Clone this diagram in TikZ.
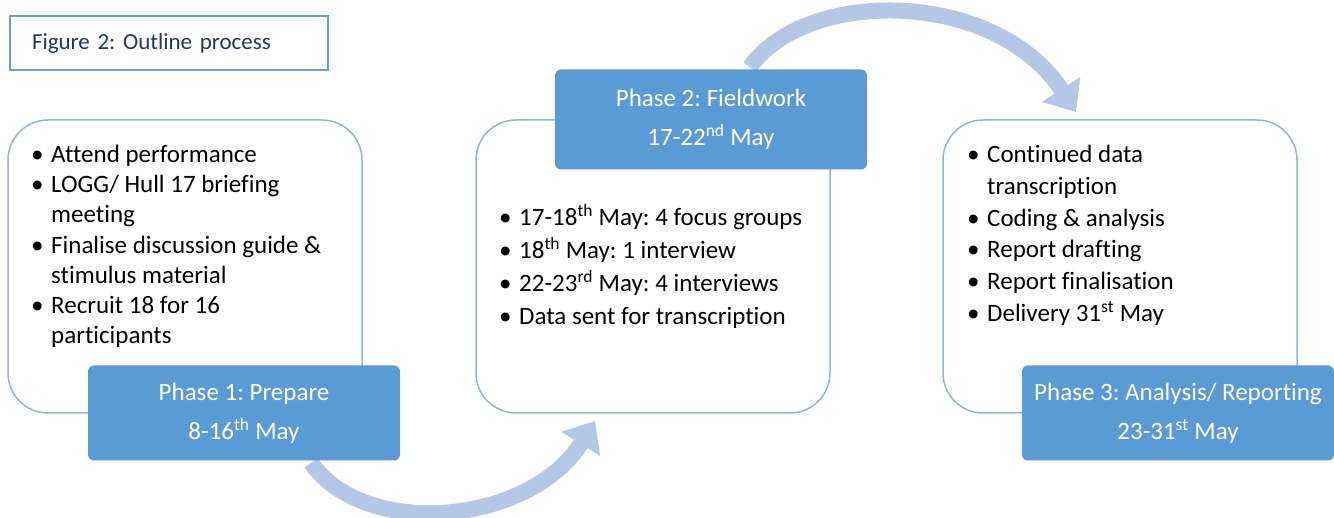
\documentclass[tikz,border=0pt]{standalone}
\usepackage{fontspec}
\setmainfont{Carlito}[Ligatures=NoCommon]
\usetikzlibrary{arrows.meta,backgrounds}
\definecolor{phaseblue}{HTML}{5B9BD5}
\definecolor{cardline}{HTML}{8EB4E3}
\definecolor{titleline}{HTML}{6C9BDB}
\definecolor{arrowblue}{HTML}{B4C7E7}
\definecolor{navy}{HTML}{1F3864}
\tikzstyle{card}=[rectangle,rounded corners=40pt,draw=cardline,line width=1.5pt,fill=white,minimum width=354pt,minimum height=293pt]
\tikzstyle{phase}=[rectangle,rounded corners=6pt,fill=phaseblue,text=white,align=center,minimum width=312pt,minimum height=95pt,font=\fontsize{25}{39}\selectfont]
\tikzstyle{lst}=[anchor=north west,align=left,inner sep=0pt,font=\fontsize{25}{30.2}\selectfont]
\tikzstyle{titlebox}=[rectangle,draw=titleline,line width=1.8pt,text=navy,align=left,text width=274pt,inner xsep=22pt,minimum height=54pt,font=\fontsize{23}{26}\selectfont]
\tikzstyle{flow}=[line width=16pt,draw=arrowblue,-{Triangle[length=27pt,width=44pt]}]
\newcommand{\bl}{\makebox[20pt][l]{\textbullet}}
\newcommand{\hg}{\hspace*{20pt}}

\begin{document}
\frenchspacing
\begin{tikzpicture}[x=1pt,y=-1pt]
\useasboundingbox (0,0) rectangle (1334,518);
\node[titlebox] (fig) at (169,43) {Figure 2: Outline process};

\node[card] (b1) at (185,266.5) {};
\node[card] (b2) at (653,266.5) {};
\node[card] (b3) at (1120,266.5) {};

\node[lst] (l1) at (31,145) {\bl Attend performance\\
\bl LOGG/ Hull 17 briefing\\ \hg meeting\\
\bl Finalise discussion guide \&\\ \hg stimulus material\\
\bl Recruit 18 for 16\\ \hg participants};
\node[lst,font=\fontsize{25}{33}\selectfont] (l2) at (499,204) {\bl 17-18\textsuperscript{th} May: 4 focus groups\\
\bl 18\textsuperscript{th} May: 1 interview\\
\bl 22-23\textsuperscript{rd} May: 4 interviews\\
\bl Data sent for transcription};
\node[lst,font=\fontsize{25}{31.8}\selectfont] (l3) at (967,145) {\bl Continued data\\ \hg transcription\\
\bl Coding \& analysis\\
\bl Report drafting\\
\bl Report finalisation\\
\bl Delivery 31\textsuperscript{st} May};

\node[phase] (p1) at (244,413) {Phase 1: Prepare\\8-16\textsuperscript{th} May};
\node[phase,minimum height=100pt] (p2) at (711,119.5) {Phase 2: Fieldwork\\17-22\textsuperscript{nd} May};
\node[phase] (p3) at (1178,413) {Phase 3: Analysis/ Reporting\\23-31\textsuperscript{st} May};

\coordinate (in2) at (595,421);
\coordinate (in3) at (1076,112);
\begin{scope}[on background layer]
\draw[flow] ([xshift=67pt,yshift=-2pt]p1.south) .. controls (365,540) and (530,525) .. (in2);
\draw[flow] ([xshift=39pt,yshift=2pt]p2.north) .. controls (805,-12) and (995,-12) .. (in3);
\end{scope}
\end{tikzpicture}
\end{document}
